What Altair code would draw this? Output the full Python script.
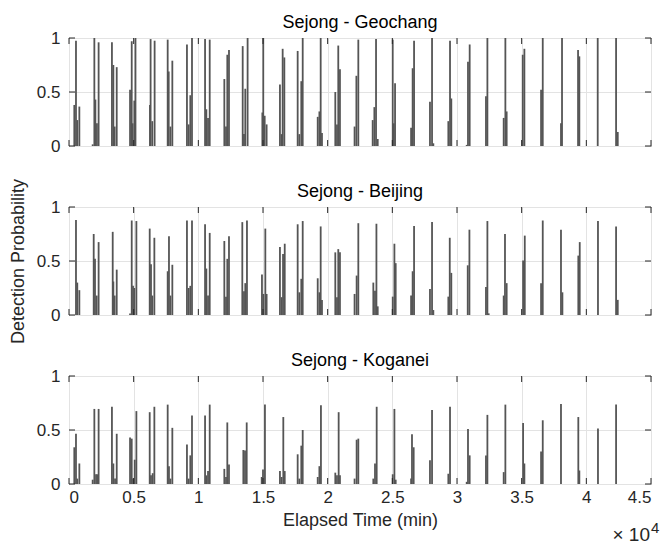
import altair as alt
import pandas as pd

# ---------------- data (time in minutes, detection probability) ----------------
panel_titles = ["Sejong - Geochang", "Sejong - Beijing", "Sejong - Koganei"]
y_title = "Detection Probability"
x_title = "Elapsed Time (min)"

geochang_t = [410, 540, 640, 800, 1830, 1960, 2040, 2160, 2290, 3320, 3430, 3530, 3690,
              4720, 4850, 4920, 5050, 5140, 6260, 6310, 6440, 6620, 7630, 7710, 7840, 7990,
              9120, 9250, 9380, 9510, 10520, 10620, 10750, 10880, 12010, 12140, 12240, 12370,
              13430, 13530, 13630, 13810, 14950, 15020, 15130, 15280, 16310, 16440, 16520, 16650,
              17680, 17810, 17960, 18070, 19230, 19360, 19460, 19560, 20590, 20720, 20820, 20950,
              22080, 22220, 22370, 23480, 23610, 23740, 23870, 25030, 25110, 25210,
              26450, 26570, 26680, 27910, 28070, 28170, 29330, 29460, 29560, 30750, 30850, 30980,
              32240, 32350, 33610, 33740, 33840, 35080, 35210, 36500, 36630, 38040, 38120,
              39360, 39460, 40880, 42300, 42430]
geochang_p = [0.38, 0.975, 0.24, 0.365, 0.015, 1.0, 0.43, 0.21, 0.96, 0.96, 0.75, 0.18, 0.73,
              0.52, 0.97, 0.21, 0.42, 1.0, 0.38, 0.99, 0.23, 0.975, 0.985, 0.69, 0.18, 0.79,
              0.94, 0.20, 0.47, 1.0, 0.99, 0.34, 0.26, 0.985, 0.62, 0.18, 0.845, 0.89,
              0.925, 0.11, 0.53, 1.0, 0.31, 1.0, 0.28, 0.20, 0.57, 0.11, 0.90, 0.82,
              0.88, 0.11, 0.60, 1.0, 0.27, 0.32, 1.0, 0.12, 0.50, 0.20, 0.93, 0.71,
              0.18, 0.65, 0.985, 0.24, 0.36, 0.99, 0.065, 0.985, 0.21, 0.58,
              0.17, 0.72, 0.975, 0.41, 1.0, 0.025, 0.23, 0.975, 0.44, 0.01, 0.78, 0.94,
              0.46, 1.0, 0.26, 1.0, 0.32, 0.845, 0.90, 0.52, 1.0, 0.21, 1.0,
              0.89, 0.83, 1.0, 1.0, 0.13]

beijing_t = [540, 640, 800, 1910, 2010, 2140, 2290, 3380, 3430, 3530, 3690,
             4720, 4850, 4950, 5050, 5210, 6240, 6340, 6440, 6600, 7630, 7730, 7840, 7990,
             9120, 9250, 9380, 9510, 10520, 10620, 10750, 10880, 12010, 12140, 12240, 12370,
             13400, 13530, 13630, 13760, 14920, 15030, 15180, 15280, 16310, 16440, 16550, 16680,
             17680, 17810, 17960, 18070, 19230, 19360, 19460, 19560, 20590, 20720, 20820, 20950,
             22080, 22240, 22370, 23530, 23660, 23770, 23870, 25030, 25160, 25260,
             26450, 26570, 26680, 27910, 28070, 28170, 29330, 29440, 29560, 30830, 30960,
             32240, 32350, 32450, 33610, 33710, 33840, 35110, 35240, 36500, 36630, 38040, 38150,
             39380, 39490, 40900, 42300, 42430]
beijing_p = [0.88, 0.30, 0.23, 0.75, 0.52, 0.18, 0.675, 0.77, 0.31, 0.18, 0.42,
             0.015, 0.875, 0.27, 0.25, 0.87, 0.80, 0.47, 0.18, 0.715, 0.405, 0.73, 0.18, 0.465,
             0.875, 0.25, 0.27, 0.875, 0.84, 0.43, 0.18, 0.76, 0.685, 0.17, 0.52, 0.73,
             0.86, 0.22, 0.295, 0.875, 0.375, 0.195, 0.80, 0.195, 0.63, 0.165, 0.565, 0.66,
             0.84, 0.21, 0.335, 0.87, 0.34, 0.21, 0.82, 0.14, 0.58, 0.165, 0.61, 0.58,
             0.195, 0.365, 0.85, 0.30, 0.225, 0.845, 0.08, 0.17, 0.66, 0.48,
             0.18, 0.405, 0.825, 0.24, 0.86, 0.046, 0.17, 0.715, 0.39, 0.46, 0.79,
             0.26, 0.87, 0.015, 0.18, 0.75, 0.295, 0.505, 0.735, 0.295, 0.875, 0.79, 0.21,
             0.55, 0.675, 0.87, 0.82, 0.14]

koganei_t = [410, 540, 640, 800, 1830, 1960, 2090, 2190, 2290, 3320, 3430, 3560, 3690,
             4720, 4850, 4950, 5080, 5210, 6240, 6340, 6470, 6600, 7630, 7730, 7840, 7990,
             9120, 9250, 9380, 9510, 10520, 10620, 10750, 10880, 12010, 12140, 12240, 12370,
             13480, 13610, 13740, 14900, 15000, 15150, 16310, 16440, 16570, 16680,
             17680, 17810, 17960, 18070, 19230, 19360, 19480, 20590, 20720, 20850, 20950,
             22080, 22240, 22370, 23530, 23660, 23790, 25030, 25160, 25260,
             26450, 26520, 26650, 27910, 28070, 29330, 29460, 30750, 30850, 30980,
             32240, 32350, 33610, 33740, 35110, 35210, 36500, 36630, 38040,
             39380, 39460, 40900, 42300]
koganei_p = [0.34, 0.465, 0.05, 0.19, 0.04, 0.695, 0.09, 0.09, 0.695, 0.715, 0.19, 0.05, 0.465,
             0.43, 0.42, 0.05, 0.225, 0.675, 0.665, 0.08, 0.10, 0.715, 0.735, 0.165, 0.05, 0.52,
             0.365, 0.05, 0.265, 0.635, 0.635, 0.08, 0.12, 0.735, 0.14, 0.065, 0.57, 0.18,
             0.315, 0.31, 0.57, 0.065, 0.135, 0.735, 0.12, 0.065, 0.62, 0.12,
             0.275, 0.05, 0.355, 0.50, 0.065, 0.165, 0.73, 0.105, 0.08, 0.665, 0.08,
             0.05, 0.41, 0.42, 0.05, 0.19, 0.715, 0.09, 0.695, 0.04,
             0.05, 0.46, 0.34, 0.22, 0.685, 0.095, 0.715, 0.02, 0.51, 0.265,
             0.265, 0.64, 0.11, 0.735, 0.565, 0.19, 0.30, 0.59, 0.74,
             0.62, 0.125, 0.515, 0.735]

x_ticks = [0, 5000, 10000, 15000, 20000, 25000, 30000, 35000, 40000, 45000]
y_ticks = [0, 0.5, 1]

W, H = 582, 108
FONT = "Liberation Sans"
AXIS_COLOR = "#262626"
GRID_COLOR = "#e3e3e3"
SPIKE_COLOR = "#555555"
TICK_LEN = 6


def panel(title, t, p, bottom, show_ytitle):
    df = pd.DataFrame({"t": t, "p": p})
    xticks_df = pd.DataFrame({"t": x_ticks})
    yticks_df = pd.DataFrame({"p": y_ticks})

    x_axis = alt.Axis(values=x_ticks, grid=True, gridColor=GRID_COLOR, ticks=False,
                      domain=False, labels=bottom, labelFont=FONT, labelFontSize=17,
                      labelColor=AXIS_COLOR, labelPadding=5, labelExpr="datum.value / 10000",
                      title=x_title if bottom else "",
                      titleFont=FONT, titleFontSize=18, titleFontWeight="normal",
                      titleColor=AXIS_COLOR, titlePadding=6)

    y_axis = alt.Axis(values=y_ticks, grid=True, gridColor=GRID_COLOR, ticks=False,
                      domain=False, format="~g", labelFont=FONT, labelFontSize=17,
                      labelColor=AXIS_COLOR, labelPadding=9,
                      title=y_title if show_ytitle else "",
                      titleFont=FONT, titleFontSize=18,
                      titleFontWeight="normal", titleColor=AXIS_COLOR, titlePadding=9)

    xs = alt.Scale(domain=[0, 45000], nice=False, zero=False)
    ys = alt.Scale(domain=[0, 1], nice=False)
    X = alt.X("t:Q", scale=xs, axis=x_axis)
    Y = alt.Y("p:Q", scale=ys, axis=y_axis)

    spikes = alt.Chart(df).mark_rule(color=SPIKE_COLOR, strokeWidth=1.8).encode(
        x=X, y=Y, y2=alt.datum(0),
    )
    tick_top = alt.Chart(xticks_df).mark_rule(color=AXIS_COLOR, strokeWidth=1).encode(
        x=X, y=alt.value(0), y2=alt.value(TICK_LEN))
    tick_bot = alt.Chart(xticks_df).mark_rule(color=AXIS_COLOR, strokeWidth=1).encode(
        x=X, y=alt.value(H - TICK_LEN), y2=alt.value(H))
    tick_left = alt.Chart(yticks_df).mark_rule(color=AXIS_COLOR, strokeWidth=1).encode(
        y=Y, x=alt.value(0), x2=alt.value(TICK_LEN))
    tick_right = alt.Chart(yticks_df).mark_rule(color=AXIS_COLOR, strokeWidth=1).encode(
        y=Y, x=alt.value(W - TICK_LEN), x2=alt.value(W))

    # panel title as a text mark so that it sits at a fixed distance above the frame
    head = alt.Chart(pd.DataFrame({"s": [title]})).mark_text(
        font=FONT, fontSize=18, color="black", align="center", baseline="middle"
    ).encode(text="s:N", x=alt.value(W / 2), y=alt.value(-15))

    layers = [spikes, tick_top, tick_bot, tick_left, tick_right, head]
    if bottom:
        mult = alt.Chart(pd.DataFrame({"s": ["× 10"]})).mark_text(
            font=FONT, fontSize=19, color=AXIS_COLOR, align="right", baseline="alphabetic"
        ).encode(text="s:N", x=alt.value(W - 1), y=alt.value(H + 57))
        expo = alt.Chart(pd.DataFrame({"s": ["4"]})).mark_text(
            font=FONT, fontSize=15, color=AXIS_COLOR, align="left", baseline="alphabetic"
        ).encode(text="s:N", x=alt.value(W), y=alt.value(H + 49))
        layers += [mult, expo]

    return alt.layer(*layers).properties(width=W, height=H)


chart = alt.vconcat(
    panel(panel_titles[0], geochang_t, geochang_p, False, False),
    panel(panel_titles[1], beijing_t, beijing_p, False, True),
    panel(panel_titles[2], koganei_t, koganei_p, True, False),
    spacing=61,
    bounds="flush",
).configure_view(
    stroke=AXIS_COLOR, strokeWidth=1
).properties(
    background="white",
    padding={"left": 8, "top": 13, "right": 5, "bottom": 0},
)

chart.save("out.html", embed_options={"renderer": "svg", "actions": False})
